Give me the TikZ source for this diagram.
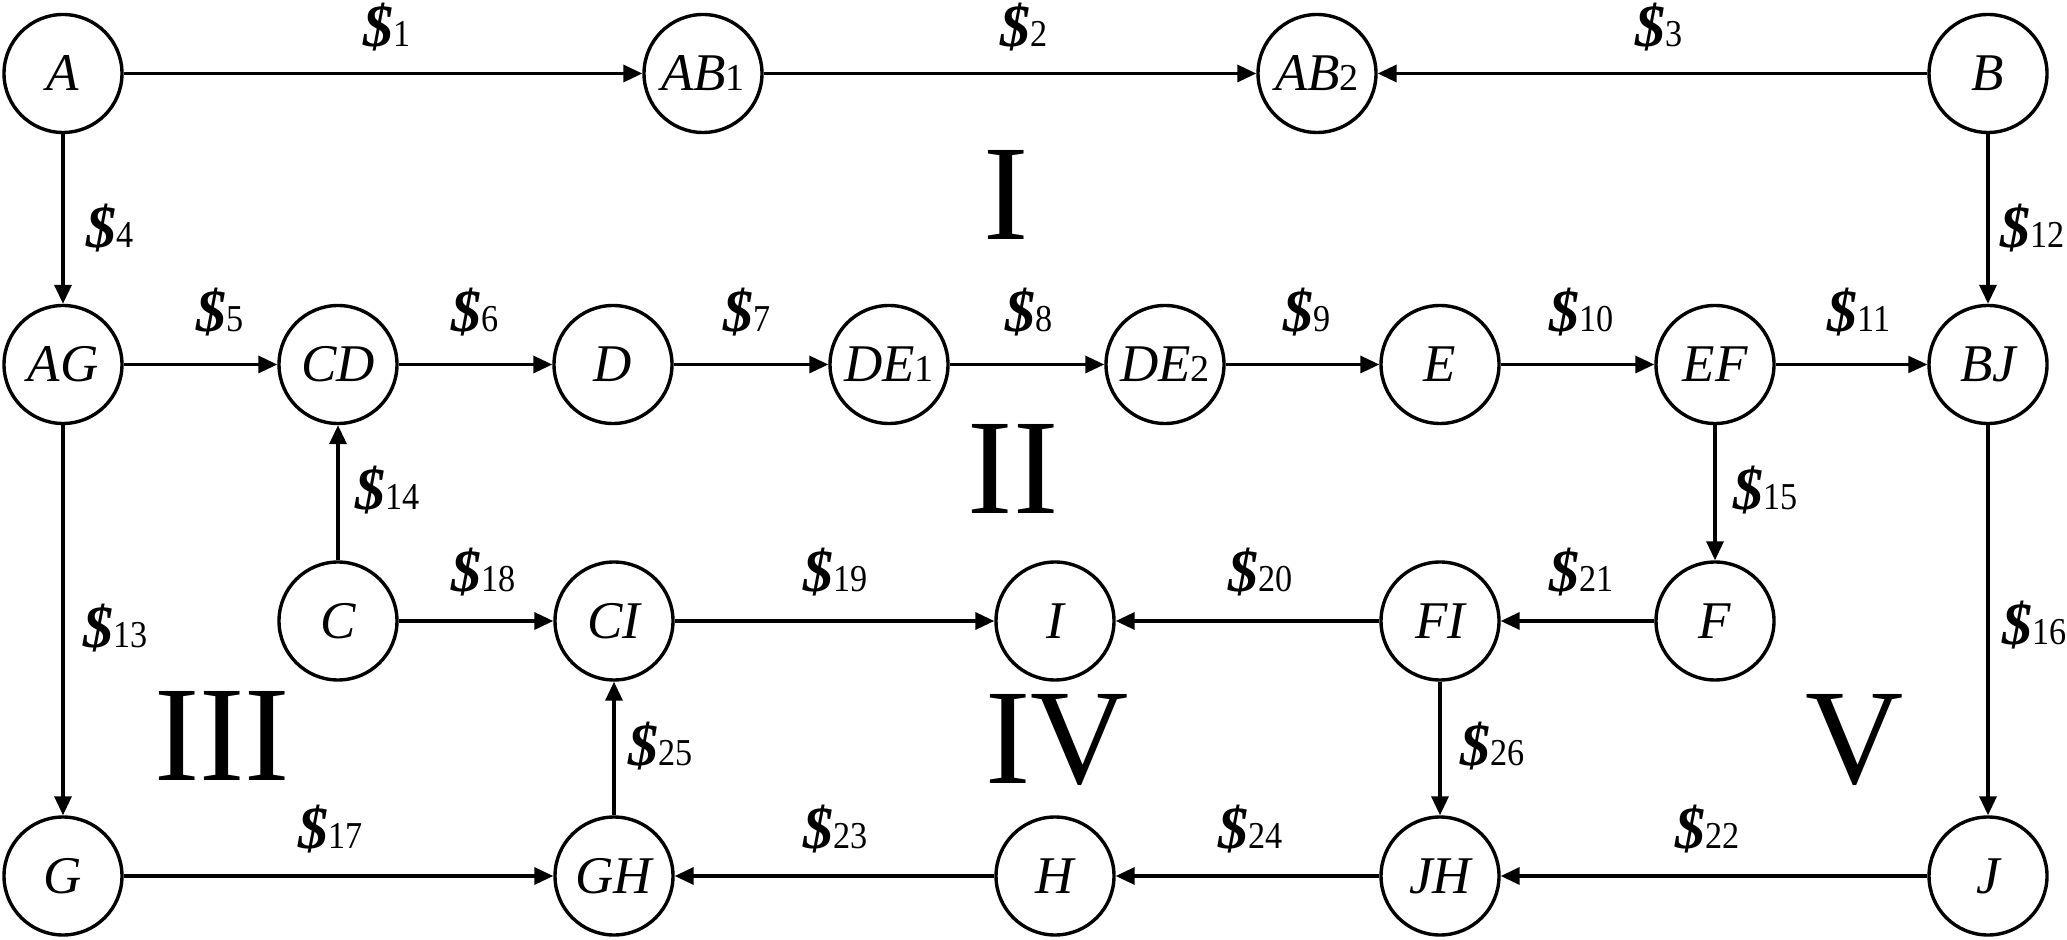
\documentclass[tikz,border=0pt]{standalone}
\usepackage{fontspec}
\setmainfont{Liberation Serif}
\usetikzlibrary{arrows.meta}
\newcommand\lbl[1]{{\fontsize{30pt}{30pt}\selectfont\bfseries\itshape\$}{\fontsize{19pt}{19pt}\selectfont\scalebox{0.9}[1]{#1}}}
\newcommand\subd[1]{{\fontsize{19pt}{19pt}\selectfont\upshape #1}}
\tikzset{
  st/.style={circle, draw, line width=1.7pt, minimum size=59pt, inner sep=0pt,
    font=\fontsize{26.5pt}{26.5pt}\selectfont\itshape},
  ed/.style={line width=1.7pt, -{Triangle[length=9.5pt,width=8.5pt]}},
  thin ed/.style={line width=1.1pt, -{Triangle[length=9.5pt,width=8.5pt]}},
  lab/.style={anchor=base west, inner sep=0pt},
  reg/.style={anchor=base, inner sep=0pt, font=\fontsize{68pt}{68pt}\selectfont}
}
\begin{document}
\begin{tikzpicture}[x=0.5pt, y=-0.5pt]
\useasboundingbox (0,0) rectangle (2067,940);
% row 1
\node[st] (A)   at (63,73.5)   {A};
\node[st] (AB1) at (703,73.5)  {AB\subd{1}};
\node[st] (AB2) at (1317,73.5) {AB\subd{2}};
\node[st] (B)   at (1988,73.5) {B};
% row 2
\node[st] (AG)  at (63,364.5)   {AG};
\node[st] (CD)  at (338,364.5)  {CD};
\node[st] (D)   at (613,364.5)  {D};
\node[st] (DE1) at (889,364.5)  {DE\subd{1}};
\node[st] (DE2) at (1165,364.5) {DE\subd{2}};
\node[st] (E)   at (1440,364.5) {E};
\node[st] (EF)  at (1715,364.5) {EF};
\node[st] (BJ)  at (1988,364.5) {BJ};
% row 3
\node[st] (C)  at (338,621)  {C};
\node[st] (CI) at (614,621)  {CI};
\node[st] (I)  at (1055,621) {I};
\node[st] (FI) at (1440,621) {FI};
\node[st] (F)  at (1715,621) {F};
% row 4
\node[st] (G)  at (63,876)   {G};
\node[st] (GH) at (614,876)  {GH};
\node[st] (H)  at (1055,876) {H};
\node[st] (JH) at (1440,876) {JH};
\node[st] (J)  at (1988,876) {J};
% edges
\draw[ed] (A) -- (AB1);
\draw[ed] (AB1) -- (AB2);
\draw[ed] (B) -- (AB2);
\draw[ed] (A) -- (AG);
\draw[ed] (AG) -- (CD);
\draw[ed] (CD) -- (D);
\draw[ed] (D) -- (DE1);
\draw[ed] (DE1) -- (DE2);
\draw[ed] (DE2) -- (E);
\draw[ed] (E) -- (EF);
\draw[thin ed] (EF) -- (BJ);
\draw[ed] (B) -- (BJ);
\draw[ed] (AG) -- (G);
\draw[ed] (C) -- (CD);
\draw[ed] (EF) -- (F);
\draw[ed] (BJ) -- (J);
\draw[ed] (G) -- (GH);
\draw[ed] (C) -- (CI);
\draw[ed] (CI) -- (I);
\draw[ed] (FI) -- (I);
\draw[ed] (F) -- (FI);
\draw[ed] (J) -- (JH);
\draw[ed] (H) -- (GH);
\draw[ed] (JH) -- (H);
\draw[ed] (GH) -- (CI);
\draw[ed] (FI) -- (JH);
% labels
\node[lab] (l1)  at (363,47)   {\lbl{1}};
\node[lab] (l2)  at (1000,47)  {\lbl{2}};
\node[lab] (l3)  at (1635,47)  {\lbl{3}};
\node[lab] (l4)  at (86,248)   {\lbl{4}};
\node[lab] (l12) at (2000,248) {\lbl{12}};
\node[lab] (l5)  at (196,332)  {\lbl{5}};
\node[lab] (l6)  at (451,332)  {\lbl{6}};
\node[lab] (l7)  at (723,332)  {\lbl{7}};
\node[lab] (l8)  at (1005,332) {\lbl{8}};
\node[lab] (l9)  at (1283,332) {\lbl{9}};
\node[lab] (l10) at (1549,332) {\lbl{10}};
\node[lab] (l11) at (1827,332) {\lbl{11}};
\node[lab] (l14) at (355,510)  {\lbl{14}};
\node[lab] (l15) at (1733,510) {\lbl{15}};
\node[lab] (l18) at (451,592)  {\lbl{18}};
\node[lab] (l19) at (803,592)  {\lbl{19}};
\node[lab] (l20) at (1228,592) {\lbl{20}};
\node[lab] (l21) at (1549,592) {\lbl{21}};
\node[lab] (l13) at (83,647)   {\lbl{13}};
\node[lab] (l16) at (2002,645) {\lbl{16}};
\node[lab] (l25) at (628,765)  {\lbl{25}};
\node[lab] (l26) at (1460,765) {\lbl{26}};
\node[lab] (l17) at (298,848)  {\lbl{17}};
\node[lab] (l23) at (803,848)  {\lbl{23}};
\node[lab] (l24) at (1218,848) {\lbl{24}};
\node[lab] (l22) at (1675,848) {\lbl{22}};
% region numerals
\node[reg] (rI)   at (1006,240) {I};
\node[reg] (rII)  at (1013,514) {II};
\node[reg] (rIII) at (222,780)  {III};
\node[reg] (rIV)  at (1057,783) {IV};
\node[reg] (rV)   at (1855,783) {V};
\end{tikzpicture}
\end{document}
